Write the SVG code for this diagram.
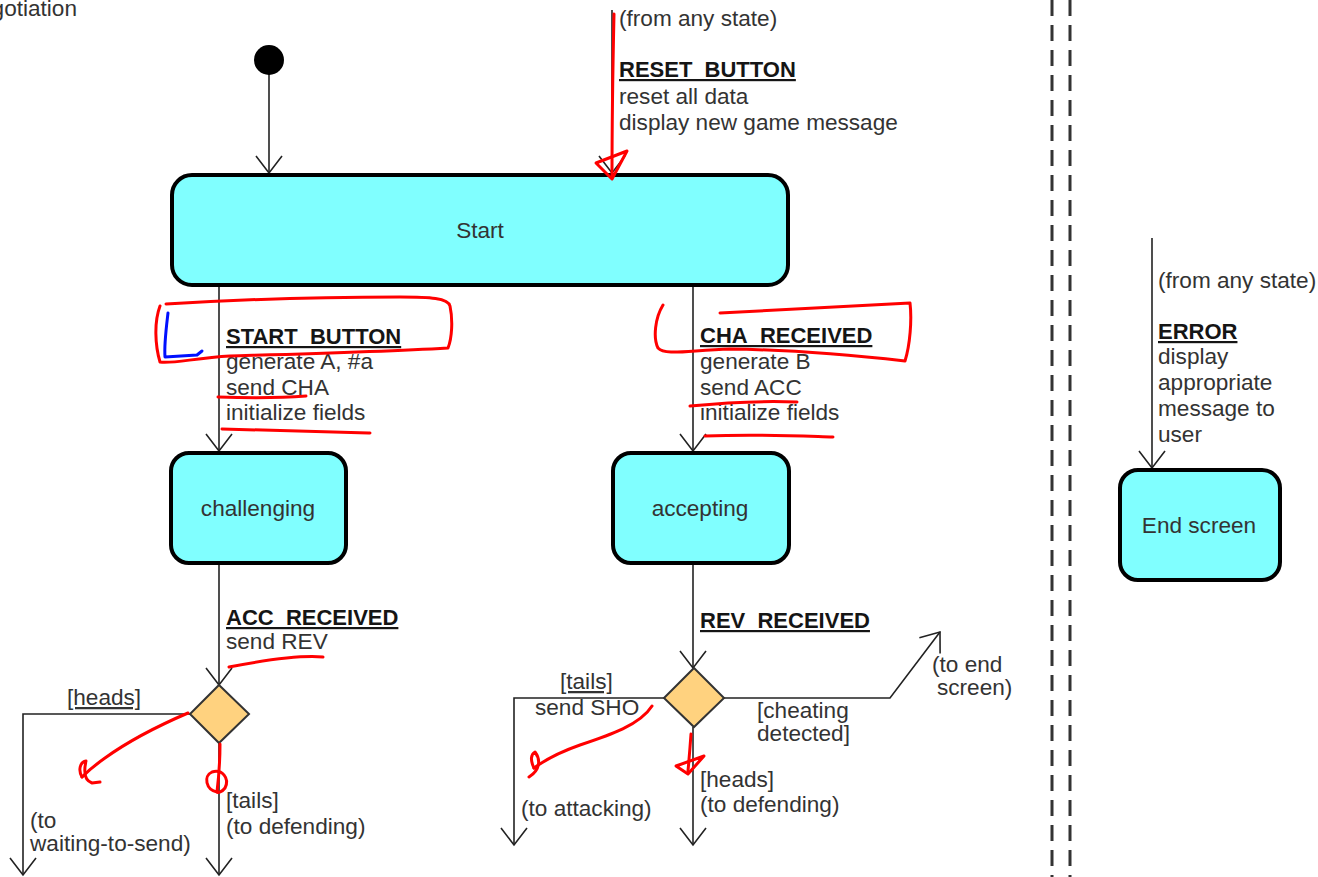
<svg xmlns="http://www.w3.org/2000/svg" width="1318" height="877" viewBox="0 0 1318 877">
  <style>
    text { font-family: "Liberation Sans", Arial, sans-serif; font-size: 22.6px; fill: #333; }
    .ev { font-weight: bold; font-size: 22px; fill: #151515; text-decoration: underline; }
    .ul { text-decoration: underline; }
    .mid { text-anchor: middle; }
    .state { fill: #80FFFF; stroke: #000; stroke-width: 4; }
    .choice { fill: #FFD27F; stroke: #333; stroke-width: 2; }
    .conn { fill: none; stroke: #222; stroke-width: 1.6; }
    .arr { marker-end: url(#open); }
    .sep { stroke: #333; stroke-width: 3; stroke-dasharray: 16 9; }
    .pen { fill: none; stroke: #FF0000; stroke-width: 3; stroke-linecap: round; stroke-linejoin: round; }
    .pen-blue { fill: none; stroke: #0010FF; stroke-width: 3; stroke-linecap: round; stroke-linejoin: round; }
  </style>
  <defs>
    <marker id="open" viewBox="-19 -15 21 30" markerWidth="21" markerHeight="30" refX="0" refY="0" orient="auto" markerUnits="userSpaceOnUse">
      <path d="M-17,-13 L0,0 L-17,13" fill="none" stroke="#222" stroke-width="1.6"/>
    </marker>
  </defs>
  <rect width="1318" height="877" fill="#fff"/>

  <!-- frame title (runs off the left edge) -->
  <text x="77" y="16" text-anchor="end">Negotiation</text>

  <!-- region separator -->
  <g id="separator">
    <line class="sep" x1="1052" y1="0" x2="1052" y2="877"/>
    <line class="sep" x1="1070" y1="0" x2="1070" y2="877"/>
  </g>

  <!-- transitions -->
  <g id="connectors">
    <line class="conn arr" x1="269" y1="70" x2="269" y2="173"/>
    <line class="conn arr" x1="612" y1="10" x2="612" y2="173"/>
    <line class="conn arr" x1="219" y1="287" x2="219" y2="451"/>
    <line class="conn arr" x1="693" y1="287" x2="693" y2="451"/>
    <line class="conn arr" x1="219" y1="565" x2="219" y2="685"/>
    <line class="conn arr" x1="693" y1="565" x2="693" y2="668"/>
    <polyline class="conn arr" points="190,714 23,714 23,875"/>
    <line class="conn arr" x1="219" y1="743" x2="219" y2="875"/>
    <polyline class="conn arr" points="664,698 514,698 514,845"/>
    <line class="conn arr" x1="693" y1="727" x2="693" y2="845"/>
    <polyline class="conn arr" points="723,698 890,698 940,632"/>
    <line class="conn arr" x1="1152" y1="238" x2="1152" y2="468"/>
  </g>

  <!-- transition labels -->
  <g id="labels">
    <text x="619" y="26">(from any state)</text>
    <text class="ev" x="619" y="77">RESET_BUTTON</text>
    <text x="619" y="104">reset all data</text>
    <text x="619" y="130">display new game message</text>

    <text class="ev" x="226" y="344">START_BUTTON</text>
    <text x="226" y="369">generate A, #a</text>
    <text x="226" y="395">send CHA</text>
    <text x="226" y="420">initialize fields</text>

    <text class="ev" x="700" y="343">CHA_RECEIVED</text>
    <text x="700" y="369">generate B</text>
    <text x="700" y="395">send ACC</text>
    <text x="700" y="420">initialize fields</text>

    <text class="ev" x="226" y="625">ACC_RECEIVED</text>
    <text x="226" y="649">send REV</text>
    <text class="ul" x="67" y="705">[heads]</text>
    <text x="30" y="828">(to</text>
    <text x="30" y="851">waiting-to-send)</text>
    <text x="226" y="808">[tails]</text>
    <text x="226" y="834">(to defending)</text>

    <text class="ev" x="700" y="628">REV_RECEIVED</text>
    <text class="ul" x="560" y="689">[tails]</text>
    <text x="535" y="715">send SHO</text>
    <text x="521" y="816">(to attacking)</text>
    <text x="700" y="787">[heads]</text>
    <text x="700" y="812">(to defending)</text>
    <text x="757" y="718">[cheating</text>
    <text x="757" y="741">detected]</text>
    <text x="932" y="672">(to end</text>
    <text x="937" y="695">screen)</text>

    <text x="1158" y="288">(from any state)</text>
    <text class="ev" x="1158" y="339">ERROR</text>
    <text x="1158" y="364">display</text>
    <text x="1158" y="390">appropriate</text>
    <text x="1158" y="416">message to</text>
    <text x="1158" y="442">user</text>
  </g>

  <!-- states -->
  <g id="initial">
    <circle cx="269" cy="60" r="15" fill="#000"/>
  </g>
  <g id="start">
    <rect class="state" x="172" y="175" width="616" height="110" rx="20"/>
    <text class="mid" x="480" y="238">Start</text>
  </g>
  <g id="challenging">
    <rect class="state" x="171" y="453" width="175" height="110" rx="18"/>
    <text class="mid" x="258" y="516">challenging</text>
  </g>
  <g id="accepting">
    <rect class="state" x="613" y="453" width="176" height="110" rx="18"/>
    <text class="mid" x="700" y="516">accepting</text>
  </g>
  <g id="end-screen">
    <rect class="state" x="1120" y="470" width="160" height="110" rx="18"/>
    <text class="mid" x="1199" y="533">End screen</text>
  </g>
  <g id="coin-choice">
    <polygon class="choice" points="219,685 249,714 219,743 190,714"/>
  </g>
  <g id="reveal-choice">
    <polygon class="choice" points="694,668 724,698 694,727 664,698"/>
  </g>

  <!-- pen markup -->
  <g id="markup">
    <path class="pen" d="M614,14 C613,60 612,120 612,178"/>
    <path class="pen" d="M612,179 L596,163 L627,151 Z"/>

    <path class="pen" d="M166,304 C230,300 320,297 400,297 C430,297 448,298 450,306 C453,320 452,338 448,348 C380,352 300,354 230,356 C195,358 172,364 160,362 C155,345 154,322 160,306"/>
    <path class="pen-blue" d="M168,313 C166,330 164,345 165,357 L197,355 L202,351"/>
    <path class="pen" d="M218,397 C250,398 280,398 306,396"/>
    <path class="pen" d="M222,429 C270,430 320,432 370,433"/>

    <path class="pen" d="M663,305 C655,318 653,338 658,348 C665,356 690,350 730,349 C800,350 860,356 905,361 C910,345 912,320 910,303 C850,306 780,310 720,313"/>
    <path class="pen" d="M690,406 C730,402 770,401 797,402"/>
    <path class="pen" d="M705,436 C760,434 800,436 833,437"/>

    <path class="pen" d="M229,667 C260,661 300,655 323,657"/>
    <path class="pen" d="M188,713 C160,725 130,740 105,758 C95,765 88,771 82,777"/>
    <path class="pen" d="M82,777 C78,770 80,762 86,761 C84,770 83,780 92,783 L100,782"/>
    <path class="pen" d="M220,744 C220,760 219,775 217,792"/>
    <path class="pen" d="M217,792 C206,790 203,776 212,772 C222,769 230,778 225,788 C222,792 218,793 217,792"/>

    <path class="pen" d="M652,706 C640,725 610,735 580,745 C560,752 545,760 534,768"/>
    <path class="pen" d="M534,768 C530,760 531,754 535,752 C541,760 540,770 529,777"/>
    <path class="pen" d="M691,734 C690,748 689,760 688,771"/>
    <path class="pen" d="M688,774 L676,766 L704,756 Z"/>
  </g>
</svg>
